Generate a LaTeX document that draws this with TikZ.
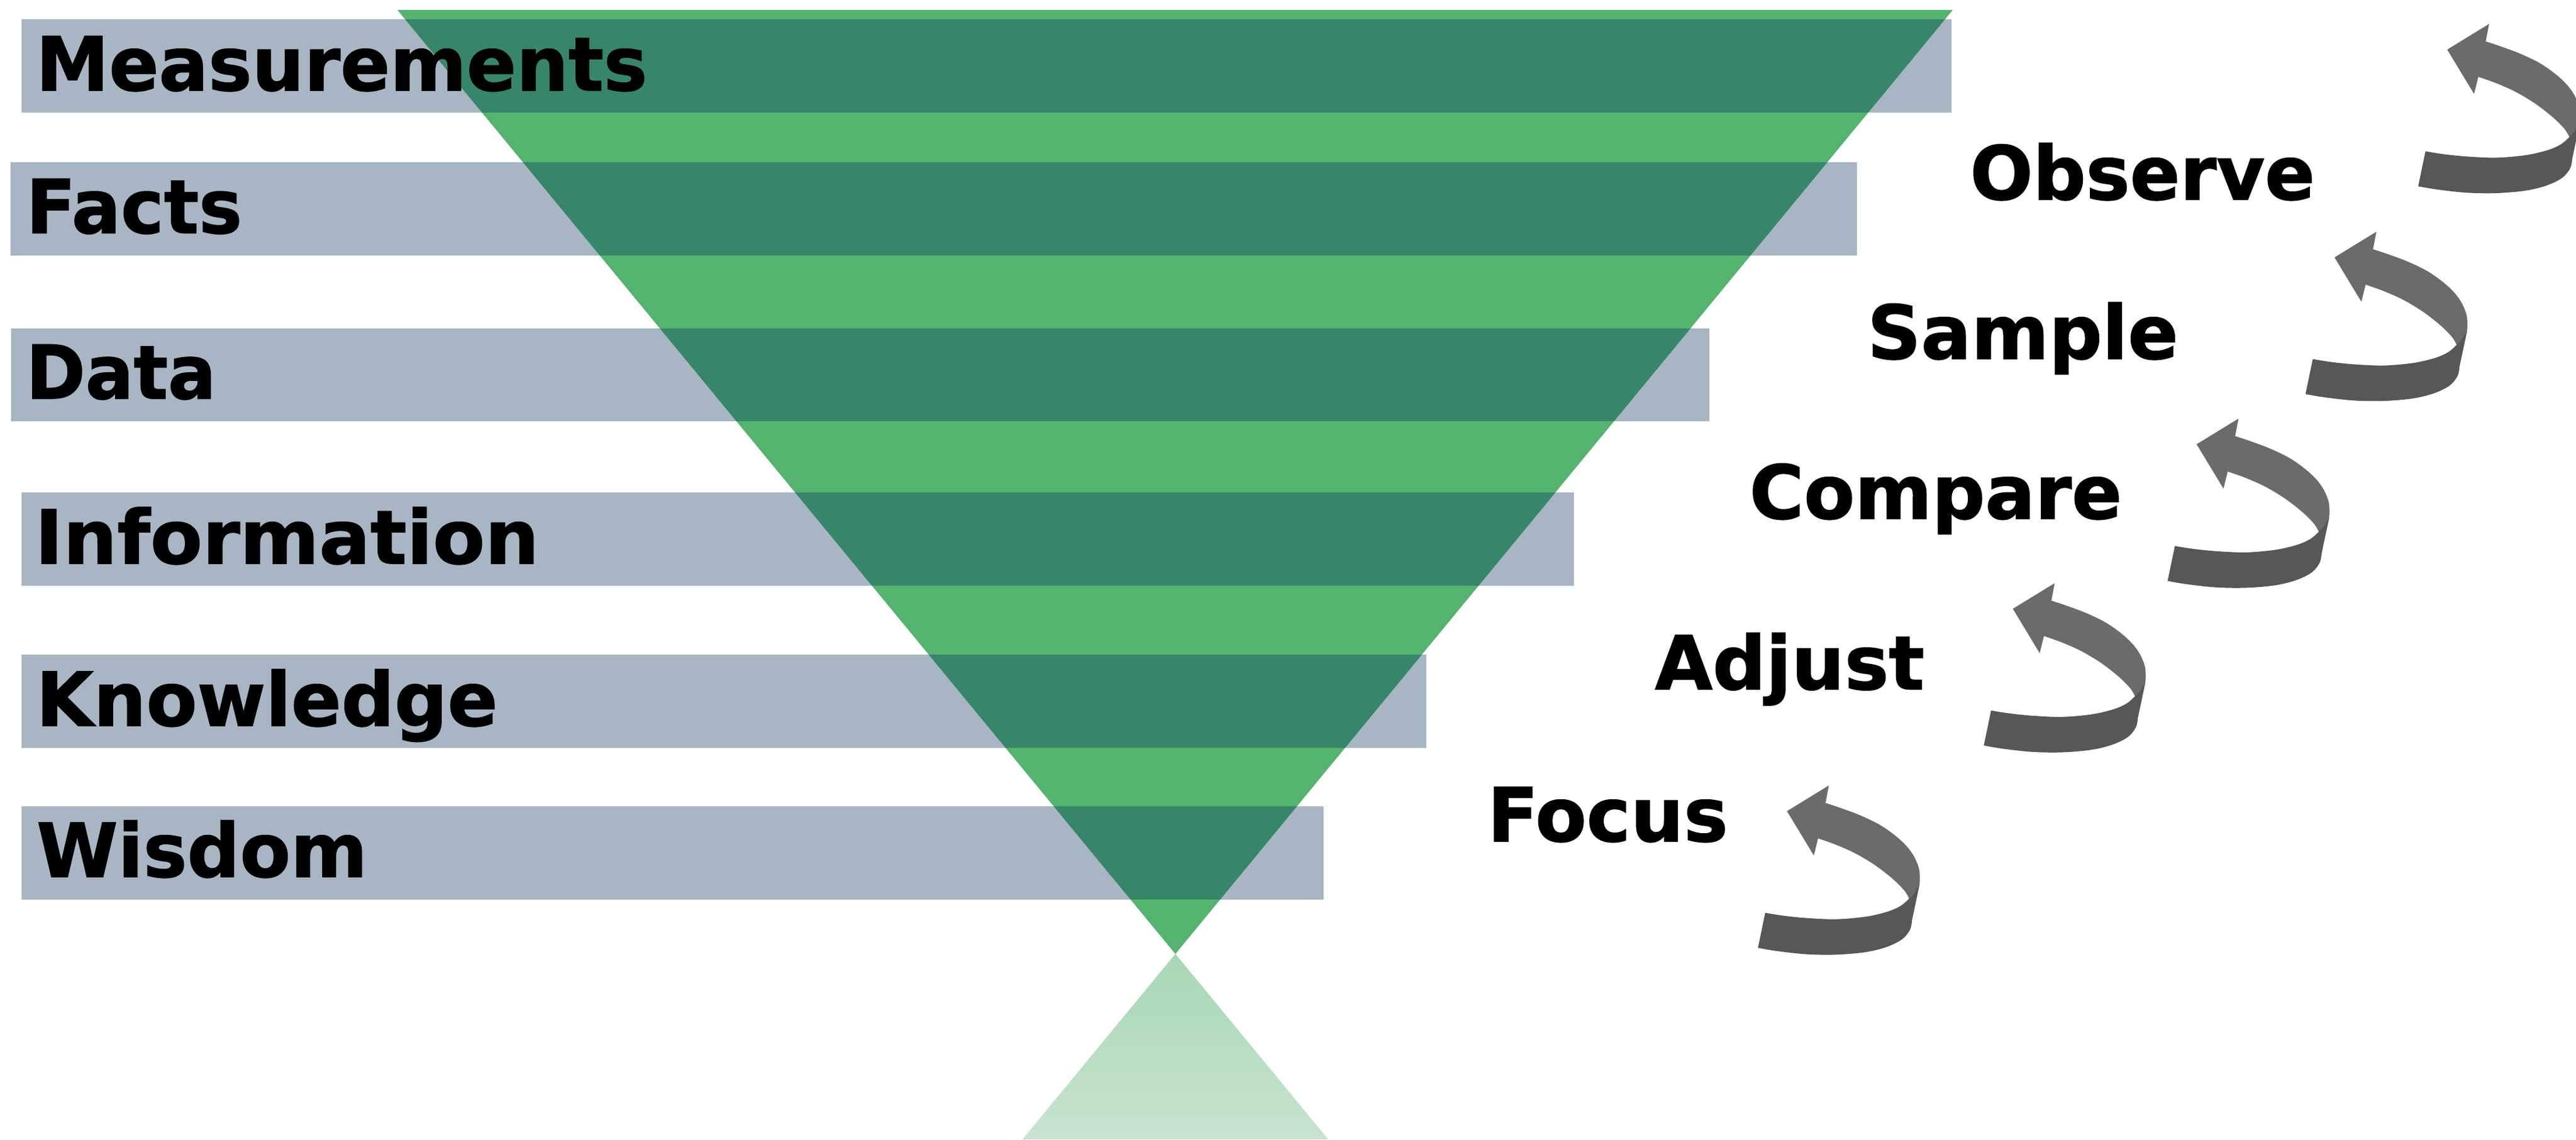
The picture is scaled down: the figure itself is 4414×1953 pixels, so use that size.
\documentclass[tikz,border=0pt]{standalone}
\usepackage{fontspec}
\setmainfont{DejaVu Sans}[BoldFeatures={FakeBold=1.2}]
\definecolor{barcol}{RGB}{167,182,194}
\definecolor{lgreen}{RGB}{84,179,111}
\definecolor{dgreen}{RGB}{55,134,106}
\definecolor{arrlight}{RGB}{107,107,107}
\definecolor{arrdark}{RGB}{87,87,87}
\definecolor{reflA}{RGB}{168,215,181}
\definecolor{reflB}{RGB}{199,228,208}
\tikzset{
  lbl/.style={anchor=base west, inner sep=0pt, text=black,
    font=\fontsize{36.3}{40}\selectfont\bfseries},
  cyclearrow/.pic={
    \fill[arrlight] (0,0) -- (71.7,-44) -- (66,-14)
      -- plot[smooth, tension=0.55] coordinates {(66,-14) (91,-5.7) (124.3,6.7) (157.7,22.7) (184.3,41) (204.3,59.3) (217.7,77.7) (226,97.7) (227.7,114.3) (227,126)}
      -- (214.3,186)
      -- plot[smooth, tension=0.55] coordinates {(209.3,150) (201,136) (181,116) (151,92.7) (117.7,72.7) (84.3,57.7) (53.3,46.7)}
      -- (46,76) -- cycle;
    \fill[arrdark] (227,126)
      -- plot[smooth, tension=0.55] coordinates {(227,126) (217.7,141) (209.3,150) (194.3,162.7) (171,172.7) (134.3,181) (84.3,185.3) (34.3,183.3) (-5.7,179.3) (-37.3,174.3)}
      -- (-49.7,234.3)
      -- plot[smooth, tension=0.55] coordinates {(-49.7,234.3) (-15.7,240) (34.3,245.3) (84.3,246) (134.3,241.7) (171,232.7) (197.7,219.3) (211,202.7) (214.3,186)}
      -- cycle;
  }
}
\begin{document}
\begin{tikzpicture}[x=0.01cm, y=-0.01cm]
\useasboundingbox (0,0) rectangle (4414,1953);
\clip (0,0) rectangle (4414,1953);
\fill[white] (0,0) rectangle (4414,1953);
% bars
\fill[barcol] (37,33) rectangle (3344,193);
\fill[barcol] (18,278) rectangle (3182,438);
\fill[barcol] (19,563) rectangle (2929,722);
\fill[barcol] (37,844) rectangle (2697,1004);
\fill[barcol] (37,1122) rectangle (2444,1282);
\fill[barcol] (37,1382) rectangle (2268,1542);
% funnel
\fill[lgreen] (681,17) -- (3346,17) -- (2014,1635) -- cycle;
\begin{scope}
  \clip (681,17) -- (3346,17) -- (2014,1635) -- cycle;
  \fill[dgreen] (0,33) rectangle (4414,193);
  \fill[dgreen] (0,278) rectangle (4414,438);
  \fill[dgreen] (0,563) rectangle (4414,722);
  \fill[dgreen] (0,844) rectangle (4414,1004);
  \fill[dgreen] (0,1122) rectangle (4414,1282);
  \fill[dgreen] (0,1382) rectangle (4414,1542);
\end{scope}
% reflection
\shade[top color=reflA, bottom color=reflB] (2014,1635) -- (2276,1953) -- (1752,1953) -- cycle;
% left labels
\node[lbl, xscale=0.985] (meas) at (61,155) {Measurements};
\node[lbl, xscale=0.978] (facts) at (44,399.5) {Facts};
\node[lbl, xscale=0.96] (data) at (44,683.4) {Data};
\node[lbl, xscale=1.02] (info) at (59,966) {Information};
\node[lbl, xscale=0.995] (know) at (61,1244) {Knowledge};
\node[lbl, xscale=0.99] (wis) at (62,1503) {Wisdom};
% right labels
\node[lbl, xscale=0.993] (obs) at (3375,342) {Observe};
\node[lbl] (samp) at (3199,615) {Sample};
\node[lbl, xscale=0.995] (comp) at (2997,889) {Compare};
\node[lbl] (adj) at (2835,1181.5) {Adjust};
\node[lbl] (foc) at (2548,1442) {Focus};
% arrows
\pic (arrO) at (4193.3,85) {cyclearrow};
\pic (arrS) at (4000.2,441.2) {cyclearrow};
\pic (arrC) at (3763.9,761.5) {cyclearrow};
\pic (arrA) at (3449,1043.5) {cyclearrow};
\pic (arrF) at (3062,1390.3) {cyclearrow};
\end{tikzpicture}
\end{document}
